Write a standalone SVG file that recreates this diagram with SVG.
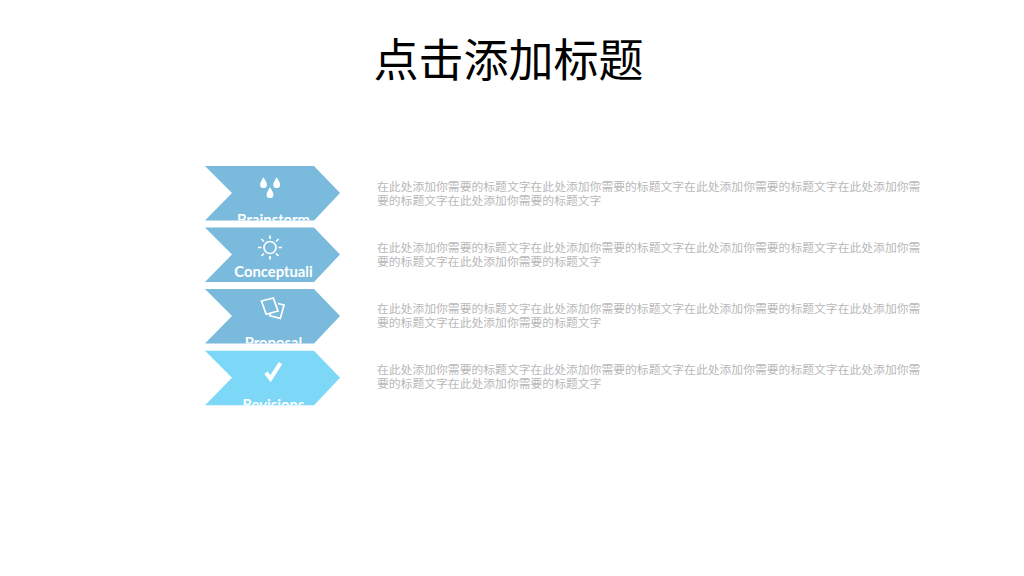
<svg xmlns="http://www.w3.org/2000/svg" width="1024" height="576" viewBox="0 0 1024 576">
<style>
.title{font-family:"Noto Sans CJK SC","Liberation Sans",sans-serif;font-size:45px;fill:#000}
.body{font-family:"Noto Sans CJK SC","Liberation Sans",sans-serif;font-size:11.82px;fill:#b8b8b8}
.lab{font-family:Lato,"Open Sans",sans-serif;font-size:14.8px;font-weight:700;fill:#fff;text-anchor:middle}
.a{fill:#7abadc}.b{fill:#7dd8f8}
.ic{fill:none;stroke:#fff;stroke-width:1.7}
.dr{fill:#fff}
</style>
<defs>
<polygon id="chev" points="205,166 314,166 340,193 314,220.500 205,220.500 232,193"/>
<clipPath id="c1"><use href="#chev"/></clipPath>
</defs>
<rect width="1024" height="576" fill="#fff"/>
<text id="title" class="title" x="373.500" y="77">点击添加标题</text>
<g id="node1">
<use href="#chev" class="a"/>
<text class="lab" x="273.500" y="225.300" clip-path="url(#c1)">Brainstorm</text>
<path class="dr" d="M263.500 177.300c2 3.500 3.400 5.200 3.400 7.400a3.400 3.400 0 0 1-6.800 0c0-2.200 1.400-3.900 3.400-7.400zM276.700 177.300c2 3.500 3.400 5.200 3.400 7.400a3.400 3.400 0 0 1-6.800 0c0-2.200 1.400-3.900 3.400-7.400zM270 187.300c2 3.500 3.400 5.200 3.400 7.400a3.400 3.400 0 0 1-6.800 0c0-2.200 1.400-3.900 3.400-7.400z"/>
</g>
<g id="node2" transform="translate(0,61.500)">
<use href="#chev" class="a"/>
<text class="lab" x="273.500" y="215.300" clip-path="url(#c1)">Conceptuali</text>
<circle class="ic" cx="270" cy="186" r="6"/>
<path class="ic" d="M270 174v3.500M270 194.500v3.500M258 186h3.500M278.500 186h3.500M261.500 177.500l2.500 2.500M276 192l2.500 2.500M278.500 177.500l-2.500 2.500M264 192l-2.500 2.500"/>
</g>
<g id="node3" transform="translate(0,123)">
<use href="#chev" class="a"/>
<text class="lab" x="273.500" y="225.300" clip-path="url(#c1)">Proposal</text>
<path class="ic" d="M261.500 178l11.800-3 4.700 13-11.800 3.200zM278 180.500l6 1.700-3.700 13.200-10.500-2.700 .8-2.500"/>
</g>
<g id="node4" transform="translate(0,184.700)">
<use href="#chev" class="b"/>
<text class="lab" x="273.500" y="225.300" clip-path="url(#c1)">Revisions</text>
<path fill="none" stroke="#fff" stroke-width="4" d="M266 188l4.500 6 10-15.500"/>
</g>
<g id="text1"><text class="body"><tspan x="377" y="191">在此处添加你需要的标题文字在此处添加你需要的标题文字在此处添加你需要的标题文字在此处添加你需</tspan><tspan x="377" y="205">要的标题文字在此处添加你需要的标题文字</tspan></text></g>
<g id="text2"><text class="body"><tspan x="377" y="252">在此处添加你需要的标题文字在此处添加你需要的标题文字在此处添加你需要的标题文字在此处添加你需</tspan><tspan x="377" y="266">要的标题文字在此处添加你需要的标题文字</tspan></text></g>
<g id="text3"><text class="body"><tspan x="377" y="313">在此处添加你需要的标题文字在此处添加你需要的标题文字在此处添加你需要的标题文字在此处添加你需</tspan><tspan x="377" y="327">要的标题文字在此处添加你需要的标题文字</tspan></text></g>
<g id="text4"><text class="body"><tspan x="377" y="374">在此处添加你需要的标题文字在此处添加你需要的标题文字在此处添加你需要的标题文字在此处添加你需</tspan><tspan x="377" y="388">要的标题文字在此处添加你需要的标题文字</tspan></text></g>
</svg>
